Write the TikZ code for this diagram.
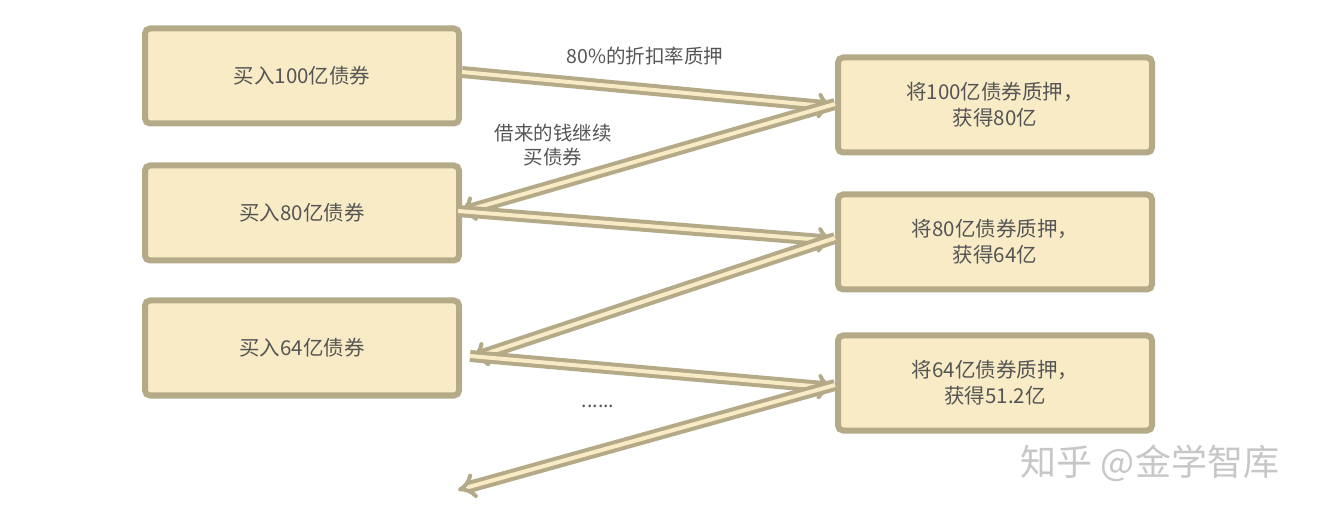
\documentclass[tikz,border=0pt]{standalone}
\usepackage{fontspec}
\setmainfont{Noto Sans CJK SC}
\usetikzlibrary{arrows.meta}
\definecolor{bord}{HTML}{B5AA88}
\definecolor{fillc}{HTML}{F8EBC6}
\definecolor{txt}{HTML}{555555}
\begin{document}
\begin{tikzpicture}[x=1pt,y=-1pt,
  box/.style={draw=bord,line width=6pt,fill=fillc,rounded corners=5pt,minimum width=314pt,minimum height=95pt,inner sep=0pt,text=txt,font=\fontsize{20.5}{26}\selectfont,align=center},
  arr/.style={draw=bord,line width=4pt,double=fillc,double distance=4pt,-{Implies[]}},
  lbl/.style={text=txt,font=\fontsize{19.5}{24}\selectfont,align=center}]
\useasboundingbox (0,0) rectangle (1325,518);
\fill[white] (0,0) rectangle (1325,518);
\node[box] (L1) at (302,76) {买入100亿债券};
\node[box] (L2) at (302,213) {买入80亿债券};
\node[box] (L3) at (302,348) {买入64亿债券};
\node[box] (R1) at (995,105) {将100亿债券质押，\\ 获得80亿};
\node[box] (R2) at (995,242) {将80亿债券质押，\\ 获得64亿};
\node[box] (R3) at (995,383) {将64亿债券质押，\\ 获得51.2亿};
\coordinate (E) at (458,490);
\draw[arr] (L1.east) ++(0,-4) -- ([yshift=-2pt]R1.west);
\draw[arr] ([yshift=1pt]R1.west) -- ([xshift=-4pt]L2.east);
\draw[arr] ([xshift=-4pt,yshift=2pt]L2.east) -- ([yshift=1pt]R2.west);
\draw[arr] ([yshift=4pt]R2.west) -- ([xshift=8pt,yshift=-11pt]L3.east);
\draw[arr] ([xshift=8pt,yshift=-8pt]L3.east) -- ([yshift=-5pt]R3.west);
\draw[arr] ([yshift=-2pt]R3.west) -- (E);
\node[lbl] (t1) at (645,56) {80\%的折扣率质押};
\node[lbl] (t2) at (553,145) {借来的钱继续\\买债券};
\node[lbl] (t3) at (598,406) {......};
\node[text=black!22,font=\fontsize{36}{40}\selectfont] (wm) at (1150,463) {知乎 @金学智库};
\end{tikzpicture}
\end{document}
